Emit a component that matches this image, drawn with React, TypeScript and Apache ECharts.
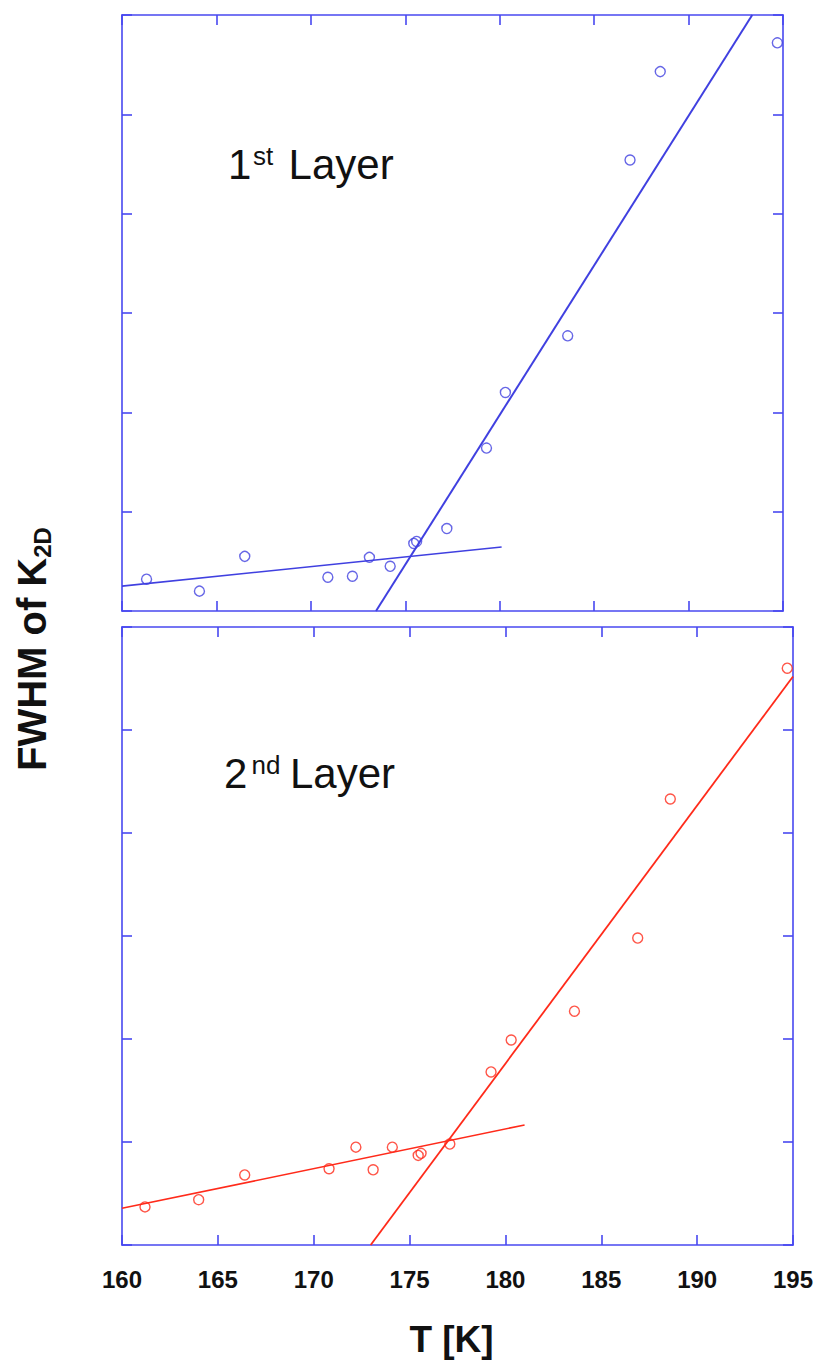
import React, { useEffect, useRef } from "react";
import * as echarts from "echarts";

// Temperature axis
const tempTicks = [160, 165, 170, 175, 180, 185, 190, 195];

// 1st layer: FWHM (arbitrary units, one unit per tick) versus T [K]
const layer1T = [161.3, 164.1, 166.5, 170.9, 172.2, 173.1, 174.2, 175.45, 175.6, 177.2, 179.3, 180.3, 183.6, 186.9, 188.5, 194.7];
const layer1W = [0.32, 0.2, 0.55, 0.34, 0.35, 0.54, 0.45, 0.68, 0.7, 0.83, 1.64, 2.2, 2.77, 4.54, 5.43, 5.72];
// linear fits below / above the transition
const layer1LowFit = [[160, 0.25], [180.1, 0.645]];
const layer1HighFit = [[173.45, 0], [193.37, 6]];

// 2nd layer
const layer2T = [161.2, 164.0, 166.4, 170.8, 172.2, 173.1, 174.1, 175.45, 175.6, 177.1, 179.25, 180.3, 183.6, 186.9, 188.6, 194.7];
const layer2W = [0.37, 0.44, 0.68, 0.74, 0.95, 0.73, 0.95, 0.87, 0.89, 0.98, 1.68, 1.99, 2.27, 2.98, 4.33, 5.6];
const layer2LowFit = [[160, 0.356], [181.0, 1.165]];
const layer2HighFit = [[172.97, 0], [195, 5.52]];

const AXIS_BLUE = "#4848f0";
const PT_BLUE = "#4040e0";
const PT_RED = "#ff2a1a";
const FONT = "'Liberation Sans', Arial, Helvetica, sans-serif";

function pairs(xs: number[], ys: number[]) {
  return xs.map((x, i) => [x, ys[i]]);
}

function xAxisFor(grid: number, position: "top" | "bottom", labels: boolean) {
  return {
    type: "value",
    gridIndex: grid,
    position,
    min: 160,
    max: 195,
    interval: 5,
    axisLine: { show: true, onZero: false, lineStyle: { color: AXIS_BLUE, width: 1.6 } },
    axisTick: { show: true, inside: true, length: 10, lineStyle: { color: AXIS_BLUE, width: 1.6 } },
    axisLabel: {
      show: labels,
      margin: 22,
      color: "#111",
      fontSize: 24,
      fontWeight: "bold",
      fontFamily: FONT,
      formatter: (v: number) => (tempTicks.includes(v) ? String(v) : ""),
    },
    splitLine: { show: false },
  };
}

function yAxisFor(grid: number, position: "left" | "right") {
  return {
    type: "value",
    gridIndex: grid,
    position,
    min: 0,
    max: 6,
    interval: 1,
    axisLine: { show: true, onZero: false, lineStyle: { color: AXIS_BLUE, width: 1.6 } },
    axisTick: { show: true, inside: true, length: 10, lineStyle: { color: AXIS_BLUE, width: 1.6 } },
    axisLabel: { show: false },
    splitLine: { show: false },
  };
}

function scatter(name: string, axis: number, data: number[][], color: string) {
  return {
    name,
    type: "scatter",
    xAxisIndex: axis,
    yAxisIndex: axis,
    data,
    symbol: "circle",
    symbolSize: 10,
    itemStyle: { color: "rgba(0,0,0,0)", borderColor: color, borderWidth: 1.4 },
    z: 3,
  };
}

function fit(name: string, axis: number, data: number[][], color: string, width: number) {
  return {
    name,
    type: "line",
    xAxisIndex: axis,
    yAxisIndex: axis,
    data,
    showSymbol: false,
    symbol: "none",
    clip: true,
    lineStyle: { color, width },
    z: 2,
  };
}

function label(x: number, y: number, text: string, size: number, weight = "normal") {
  return {
    type: "text",
    x,
    y,
    style: {
      text,
      fill: "#111",
      fontSize: size,
      fontWeight: weight,
      fontFamily: FONT,
      align: "left",
      verticalAlign: "middle",
    },
  };
}

export default function App() {
  const ref = useRef<HTMLDivElement>(null);

  useEffect(() => {
    if (!ref.current) return;
    const chart = echarts.init(ref.current, null, { renderer: "svg" });
    chart.setOption({
      animation: false,
      backgroundColor: "#ffffff",
      grid: [
        { left: 122, top: 15, width: 661, height: 596 },
        { left: 122, top: 627, width: 671, height: 618 },
      ],
      xAxis: [
        xAxisFor(0, "bottom", false),
        xAxisFor(0, "top", false),
        xAxisFor(1, "bottom", true),
        xAxisFor(1, "top", false),
      ],
      yAxis: [
        yAxisFor(0, "left"),
        yAxisFor(0, "right"),
        yAxisFor(1, "left"),
        yAxisFor(1, "right"),
      ],
      series: [
        fit("1st layer low-T fit", 0, layer1LowFit, PT_BLUE, 1.6),
        fit("1st layer high-T fit", 0, layer1HighFit, PT_BLUE, 2),
        scatter("1st Layer", 0, pairs(layer1T, layer1W), PT_BLUE),
        fit("2nd layer low-T fit", 2, layer2LowFit, PT_RED, 1.6),
        fit("2nd layer high-T fit", 2, layer2HighFit, PT_RED, 1.8),
        scatter("2nd Layer", 2, pairs(layer2T, layer2W), PT_RED),
      ],
      graphic: [
        // panel titles with superscript ordinals
        label(228, 164.4, "1", 42),
        label(253, 155.8, "st", 26),
        label(288.6, 164.4, "Layer", 42),
        label(224, 773, "2", 42),
        label(251.5, 764.5, "nd", 26),
        label(290, 773, "Layer", 42),
        // x axis title
        {
          type: "text",
          x: 451.5,
          y: 1339,
          style: {
            text: "T [K]",
            fill: "#111",
            fontSize: 37,
            fontWeight: "bold",
            fontFamily: FONT,
            align: "center",
            verticalAlign: "middle",
          },
        },
        // y axis title, reading bottom to top
        {
          type: "text",
          x: 32,
          y: 771,
          rotation: Math.PI / 2,
          style: {
            text: "{a|FWHM of K}{b|2D}",
            align: "left",
            verticalAlign: "middle",
            rich: {
              a: { fontSize: 40, fontWeight: "bold", fontFamily: FONT, fill: "#111", lineHeight: 44 },
              b: {
                fontSize: 24,
                fontWeight: "bold",
                fontFamily: FONT,
                fill: "#111",
                lineHeight: 16,
                verticalAlign: "bottom",
              },
            },
          },
        },
      ],
    });
    return () => chart.dispose();
  }, []);

  return (
    <div
      ref={ref}
      style={{ position: "absolute", left: 0, top: 0, width: 819, height: 1365 }}
    />
  );
}
